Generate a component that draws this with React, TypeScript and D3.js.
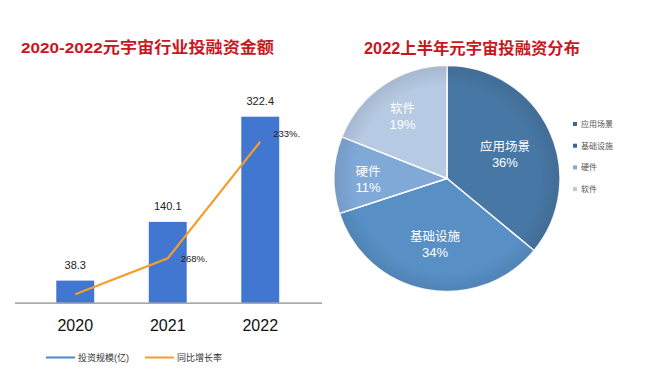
import React from "react";
import * as d3 from "d3";

const years = ["2020", "2021", "2022"];
const investValues = [38.3, 140.1, 322.4];
const growthLine = [14.5, 77, 279];
const growthLabels = ["", "268%.", "233%."];

const pieCategories = ["应用场景", "基础设施", "硬件", "软件"];
const pieValues = [36, 34, 11, 19];
const pieColors = ["#4777a4", "#5890c6", "#80a9d8", "#b6cae3"];

const legendBar = ["投资规模(亿)", "同比增长率"];

const W = 661;
const H = 371;
const FONT = "'Liberation Sans', 'Noto Sans CJK SC', sans-serif";
const RED = "#c9161f";

export default function App() {
  const baseY = 302.7;
  const x = d3.scaleBand<string>().domain(years).range([29, 306.5]).padding(0);
  const barW = x.bandwidth() * 0.41;
  const cxOf = (yr: string) => (x(yr) as number) + x.bandwidth() / 2;
  const y = d3.scaleLinear().domain([0, 322.4]).range([baseY, 116.7]);

  const lineGen = d3
    .line<number>()
    .x((_, i) => cxOf(years[i]))
    .y((d) => y(d));

  const cx = 447;
  const cy = 178.5;
  const r = 113;
  const pie = d3.pie<number>().sort(null).value((d) => d);
  const arcs = pie(pieValues);
  const arcGen = d3.arc<d3.PieArcDatum<number>>().innerRadius(0).outerRadius(r);

  return (
    <svg width={W} height={H} style={{ position: "absolute", left: 0, top: 0, background: "#fff" }}>
      <defs>
        <radialGradient id="shade" cx="50%" cy="50%" r="50%">
          <stop offset="0.82" stopColor="#000" stopOpacity="0" />
          <stop offset="1" stopColor="#000" stopOpacity="0.09" />
        </radialGradient>
      </defs>
      {/* Left title */}
      <text x={21} y={53} fontFamily={FONT} fontWeight="bold" fontSize={15.5} fill={RED} textLength={253} lengthAdjust="spacingAndGlyphs">
        2020-2022元宇宙行业投融资金额
      </text>
      {/* Bars */}
      {investValues.map((v, i) => (
        <rect key={"b" + i} x={cxOf(years[i]) - barW / 2} y={y(v)} width={barW} height={baseY - y(v)} fill="#4176d1" />
      ))}
      <line x1={15} x2={322} y1={baseY + 0.5} y2={baseY + 0.5} stroke="#8c8c8c" strokeWidth={1.2} />
      {investValues.map((v, i) => (
        <text key={"v" + i} x={cxOf(years[i])} y={y(v) - 12} textAnchor="middle" fontFamily={FONT} fontSize={11} fill="#222">
          {v.toFixed(1)}
        </text>
      ))}
      {years.map((yr) => (
        <text key={yr} x={cxOf(yr)} y={331} textAnchor="middle" fontFamily={FONT} fontSize={16} fill="#111">
          {yr}
        </text>
      ))}
      <path d={lineGen(growthLine) || ""} fill="none" stroke="#f59d2c" strokeWidth={2.2} />
      {growthLabels.map((t, i) =>
        t ? (
          <text key={"g" + i} x={cxOf(years[i]) + 13} y={y(growthLine[i]) + 3.5 - (i === 2 ? 8 : 0)} fontFamily={FONT} fontSize={9.5} fill="#222">
            {t}
          </text>
        ) : null
      )}
      {/* Left legend */}
      <line x1={46} x2={75} y1={357.5} y2={357.5} stroke="#4e86d8" strokeWidth={2} />
      <text x={78} y={361} fontFamily={FONT} fontSize={9} fill="#333">{legendBar[0]}</text>
      <line x1={145} x2={174} y1={357.5} y2={357.5} stroke="#f59d2c" strokeWidth={2} />
      <text x={177} y={361} fontFamily={FONT} fontSize={9} fill="#333">{legendBar[1]}</text>

      {/* Right title */}
      <text x={364} y={54} fontFamily={FONT} fontWeight="bold" fontSize={16} fill={RED} textLength={216} lengthAdjust="spacingAndGlyphs">
        2022上半年元宇宙投融资分布
      </text>
      {/* Pie */}
      <g transform={`translate(${cx},${cy})`}>
        {arcs.map((a, i) => (
          <path key={"p" + i} d={arcGen(a) || ""} fill={pieColors[i]} stroke="#fff" strokeWidth={1.5} />
        ))}
        <circle r={r} fill="url(#shade)" />
        {arcs.map((a, i) => {
          const mid = (a.startAngle + a.endAngle) / 2;
          const big = a.endAngle - a.startAngle > 1.5;
          const lr = big ? 64 : 79;
          const lx = Math.sin(mid) * lr;
          const ly = -Math.cos(mid) * lr;
          return (
            <g key={"l" + i} fontFamily={FONT} fill="#fff" textAnchor="middle">
              <text x={lx} y={ly} fontSize={12.5}>{pieCategories[i]}</text>
              <text x={lx} y={ly + 16} fontSize={13}>{pieValues[i]}%</text>
            </g>
          );
        })}
      </g>
      {/* Right legend */}
      {pieCategories.map((c, i) => (
        <g key={"rl" + i} transform={`translate(573,${124 + i * 21.7})`}>
          <rect x={0} y={-2} width={4} height={4} fill={i < 2 ? "#3b6694" : pieColors[i]} />
          <text x={8} y={3} fontFamily={FONT} fontSize={8} fill="#555">{c}</text>
        </g>
      ))}
    </svg>
  );
}
